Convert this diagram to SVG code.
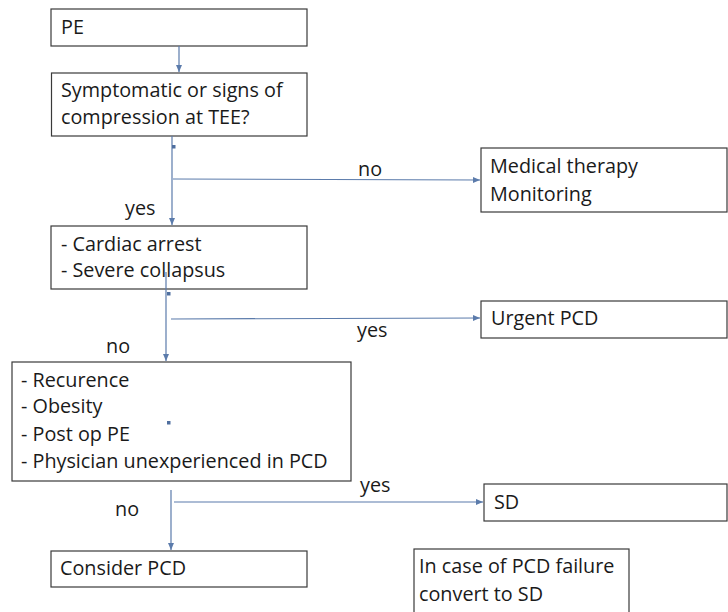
<svg xmlns="http://www.w3.org/2000/svg" width="728" height="612" viewBox="0 0 728 612">
<style>
.box{fill:#fff;stroke:#3a3a3a;stroke-width:1.2}
.t{font-family:"Open Sans","Liberation Sans",sans-serif;font-size:19.8px;fill:#1a1a1a}
.c{fill:none;stroke:#5b7bab;stroke-width:1.2}
.dot{fill:#4f6f9f}
</style>
<defs>
<marker id="ah" markerWidth="8" markerHeight="8" refX="7" refY="4" orient="auto" markerUnits="userSpaceOnUse">
<path d="M0,1 L7,4 L0,7 Z" fill="#5b7bab"/>
</marker>
</defs>
<rect width="728" height="612" fill="#fff"/>
<g id="n-pe">
<rect class="box" x="51" y="9" width="256" height="37"/>
<text class="t" x="61" y="34">PE</text>
</g>
<g id="n-symptomatic">
<rect class="box" x="51.5" y="73" width="255.5" height="63"/>
<text class="t" x="61" y="97">Symptomatic or signs of</text>
<text class="t" x="61" y="124">compression at TEE?</text>
</g>
<g id="n-medical">
<rect class="box" x="481" y="148" width="246" height="64"/>
<text class="t" x="490" y="173">Medical therapy</text>
<text class="t" x="490" y="201">Monitoring</text>
</g>
<g id="n-arrest">
<rect class="box" x="51" y="226" width="256" height="63"/>
<text class="t" x="61" y="251">- Cardiac arrest</text>
<text class="t" x="61" y="277">- Severe collapsus</text>
</g>
<g id="n-urgent">
<rect class="box" x="481" y="301" width="246" height="37"/>
<text class="t" x="491" y="325">Urgent PCD</text>
</g>
<g id="n-criteria">
<rect class="box" x="12" y="362" width="339" height="119"/>
<text class="t" x="21" y="387">- Recurence</text>
<text class="t" x="21" y="413">- Obesity</text>
<text class="t" x="21" y="441">- Post op PE</text>
<text class="t" x="21" y="468">- Physician unexperienced in PCD</text>
</g>
<g id="n-sd">
<rect class="box" x="484" y="484" width="243" height="37"/>
<text class="t" x="494" y="509">SD</text>
</g>
<g id="n-consider">
<rect class="box" x="51" y="551" width="256" height="36"/>
<text class="t" x="60" y="575">Consider PCD</text>
</g>
<g id="n-failure">
<rect class="box" x="414" y="549" width="215" height="70"/>
<text class="t" x="419" y="573">In case of PCD failure</text>
<text class="t" x="419" y="601">convert to SD</text>
</g>
<g id="connectors">
<line class="c" x1="179" y1="46" x2="179" y2="72" marker-end="url(#ah)"/>
<line class="c" x1="172" y1="136" x2="172" y2="225" marker-end="url(#ah)"/>
<rect class="dot" x="172" y="145" width="3.5" height="3.5"/>
<line class="c" x1="173" y1="179" x2="480" y2="180" marker-end="url(#ah)"/>
<text class="t" x="358" y="176">no</text>
<text class="t" x="125" y="215">yes</text>
<line class="c" x1="166" y1="272" x2="166" y2="361" marker-end="url(#ah)"/>
<rect class="dot" x="167" y="292" width="3.5" height="3.5"/>
<line class="c" x1="171" y1="319" x2="480" y2="318" marker-end="url(#ah)"/>
<text class="t" x="357" y="337">yes</text>
<text class="t" x="106" y="353">no</text>
<rect class="dot" x="167" y="421" width="3.5" height="3.5"/>
<line class="c" x1="171" y1="490" x2="171" y2="550" marker-end="url(#ah)"/>
<line class="c" x1="174" y1="502" x2="483" y2="502" marker-end="url(#ah)"/>
<text class="t" x="360" y="492">yes</text>
<text class="t" x="115" y="516">no</text>
</g>
</svg>
